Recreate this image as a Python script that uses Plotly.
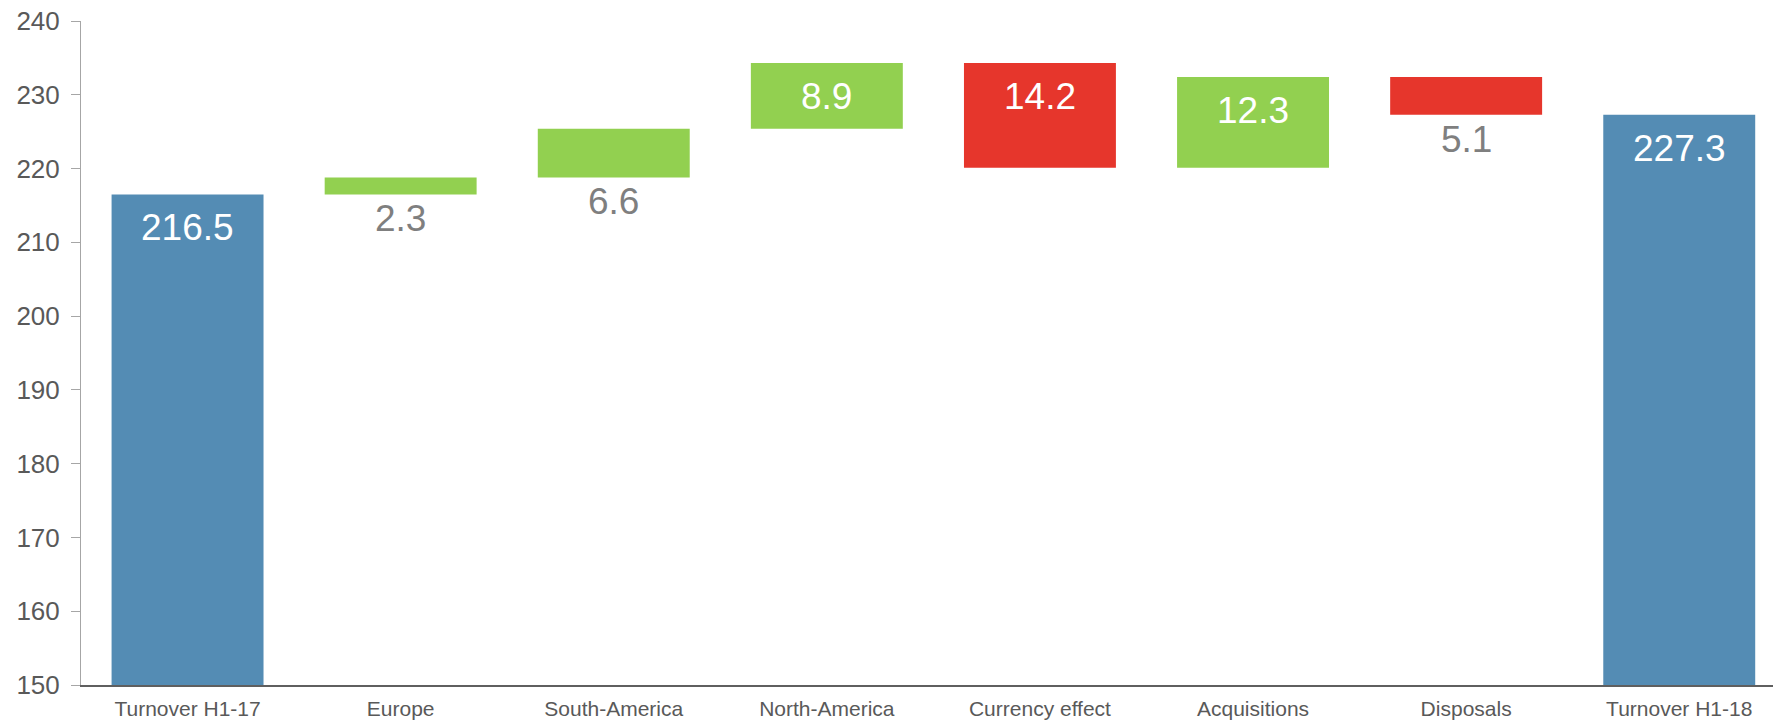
import plotly.graph_objects as go

categories = ["Turnover H1-17", "Europe", "South-America", "North-America",
              "Currency effect", "Acquisitions", "Disposals", "Turnover H1-18"]
values = [216.5, 2.3, 6.6, 8.9, -14.2, 12.3, -5.1, 227.3]
measures = ["total", "relative", "relative", "relative",
            "relative", "relative", "relative", "total"]
y_ticks = [150, 160, 170, 180, 190, 200, 210, 220, 230, 240]

BLUE = "#548CB4"
GREEN = "#92D050"
RED = "#E6362C"
FONT = "Liberation Sans, Arial, sans-serif"

bases, heights, colors, tops, bottoms = [], [], [], [], []
running = 0.0
for v, m in zip(values, measures):
    if m == "total":
        bases.append(0)
        heights.append(v)
        colors.append(BLUE)
        running = v
        tops.append(v)
        bottoms.append(0)
    else:
        start = running
        end = running + v
        bases.append(start)
        heights.append(v)
        colors.append(GREEN if v > 0 else RED)
        running = end
        tops.append(max(start, end))
        bottoms.append(min(start, end))

fig = go.Figure()
fig.add_trace(go.Bar(
    x=categories, y=heights, base=bases,
    marker=dict(color=colors, line=dict(width=0)),
    hoverinfo="skip", showlegend=False,
))

annotations = []
for cat, v, top, bot in zip(categories, values, tops, bottoms):
    label = f"{abs(v):.1f}"
    if top - max(bot, 150) >= 8:
        annotations.append(dict(
            x=cat, y=top, xref="x", yref="y", text=label, showarrow=False,
            yanchor="top", yshift=-11,
            font=dict(family=FONT, size=37, color="white")))
    else:
        annotations.append(dict(
            x=cat, y=bot, xref="x", yref="y", text=label, showarrow=False,
            yanchor="top", yshift=-2,
            font=dict(family=FONT, size=37, color="#7F7F7F")))

fig.update_layout(
    width=1773, height=721,
    margin=dict(l=81, r=0, t=21, b=36, pad=0, autoexpand=False),
    paper_bgcolor="white", plot_bgcolor="white",
    bargap=0.287,
    font=dict(family=FONT, color="#595959"),
    annotations=annotations,
    xaxis=dict(
        range=[-0.5, 7.44], showgrid=False, zeroline=False,
        showline=True, linecolor="#5F5F5F", linewidth=2,
        ticks="", tickfont=dict(family=FONT, size=21, color="#595959"),
        ticklabelstandoff=4, ticklabeloverflow="allow",
        automargin=False,
    ),
    yaxis=dict(
        range=[150, 240], tickvals=y_ticks, showgrid=False, zeroline=False,
        showline=True, linecolor="#A6A6A6", linewidth=1,
        ticks="outside", ticklen=9, tickcolor="#A6A6A6", tickwidth=1,
        ticklabelstandoff=6, ticklabeloverflow="allow", automargin=False,
        tickfont=dict(family=FONT, size=26, color="#595959"),
    ),
)

fig.write_html(
    "out.html",
    config={"displayModeBar": False},
    post_script="document.body.style.margin='0';document.body.style.overflow='hidden';",
)
